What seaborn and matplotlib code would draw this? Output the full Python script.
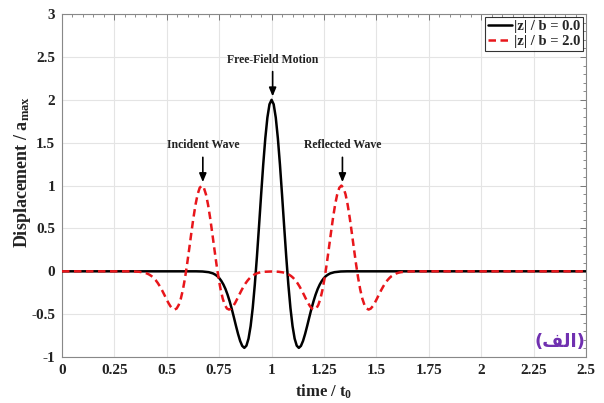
import matplotlib
matplotlib.use("Agg")
import matplotlib.pyplot as plt
from matplotlib.ticker import MultipleLocator
import seaborn as sns
import pandas as pd

# ---- data ----
black_t = [0.00, 0.64, 0.67, 0.70, 0.72, 0.73, 0.74, 0.75, 0.76, 0.77, 0.78, 0.79,
           0.80, 0.81, 0.82, 0.83, 0.84, 0.85, 0.86, 0.87, 0.88, 0.89, 0.90, 0.91,
           0.92, 0.93, 0.94, 0.95, 0.96, 0.97, 0.98, 0.99, 1.00, 1.01, 1.02, 1.03,
           1.04, 1.05, 1.06, 1.07, 1.08, 1.09, 1.10, 1.11, 1.12, 1.13, 1.14, 1.15,
           1.16, 1.17, 1.18, 1.19, 1.20, 1.21, 1.22, 1.23, 1.24, 1.25, 1.26, 1.27,
           1.28, 1.30, 1.33, 1.36, 2.50]
black_y = [0.000, 0.000, -0.002, -0.010, -0.024, -0.037, -0.054, -0.078, -0.111, -0.153,
           -0.206, -0.272, -0.350, -0.438, -0.535, -0.635, -0.730, -0.812, -0.870, -0.893,
           -0.867, -0.785, -0.639, -0.428, -0.155, 0.168, 0.524, 0.890, 1.242, 1.551,
           1.793, 1.948, 2.000, 1.948, 1.793, 1.551, 1.242, 0.890, 0.524, 0.168,
           -0.155, -0.428, -0.639, -0.785, -0.867, -0.893, -0.870, -0.812, -0.730, -0.635,
           -0.535, -0.438, -0.350, -0.272, -0.206, -0.153, -0.111, -0.078, -0.054, -0.037,
           -0.024, -0.010, -0.002, 0.000, 0.000]

red_t = [0.000, 0.307, 0.337, 0.367, 0.387, 0.397, 0.407, 0.417, 0.427, 0.437, 0.447,
         0.457, 0.467, 0.477, 0.487, 0.497, 0.507, 0.517, 0.527, 0.537, 0.547, 0.557,
         0.567, 0.577, 0.587, 0.597, 0.607, 0.617, 0.627, 0.637, 0.647, 0.657, 0.667,
         0.677, 0.687, 0.697, 0.707, 0.717, 0.727, 0.737, 0.747, 0.757, 0.767, 0.777,
         0.787, 0.797, 0.807, 0.817, 0.827, 0.837, 0.847, 0.857, 0.867, 0.877, 0.887,
         0.897, 0.907, 0.917, 0.927, 0.937, 0.947, 0.967, 1.000, 1.033, 1.053, 1.063,
         1.073, 1.083, 1.093, 1.103, 1.113, 1.123, 1.133, 1.143, 1.153, 1.163, 1.173,
         1.183, 1.193, 1.203, 1.213, 1.223, 1.233, 1.243, 1.253, 1.263, 1.273, 1.283,
         1.293, 1.303, 1.313, 1.323, 1.333, 1.343, 1.353, 1.363, 1.373, 1.383, 1.393,
         1.403, 1.413, 1.423, 1.433, 1.443, 1.453, 1.463, 1.473, 1.483, 1.493, 1.503,
         1.513, 1.523, 1.533, 1.543, 1.553, 1.563, 1.573, 1.583, 1.593, 1.603, 1.613,
         1.633, 1.663, 1.693, 2.500]
red_y = [0.000, 0.000, -0.001, -0.005, -0.012, -0.018, -0.027, -0.039, -0.055, -0.076, -0.103,
         -0.136, -0.175, -0.219, -0.267, -0.317, -0.365, -0.406, -0.435, -0.446, -0.434, -0.392,
         -0.319, -0.214, -0.078, 0.084, 0.262, 0.445, 0.621, 0.776, 0.897, 0.974, 1.000,
         0.974, 0.897, 0.776, 0.621, 0.445, 0.262, 0.084, -0.078, -0.214, -0.319, -0.392,
         -0.434, -0.446, -0.435, -0.406, -0.365, -0.317, -0.267, -0.219, -0.175, -0.136, -0.103,
         -0.076, -0.055, -0.039, -0.027, -0.018, -0.012, -0.005, -0.002, -0.005, -0.012, -0.018,
         -0.027, -0.039, -0.055, -0.076, -0.103, -0.136, -0.175, -0.219, -0.267, -0.317, -0.365,
         -0.406, -0.435, -0.446, -0.434, -0.392, -0.319, -0.214, -0.078, 0.084, 0.262, 0.445,
         0.621, 0.776, 0.897, 0.974, 1.000, 0.974, 0.897, 0.776, 0.621, 0.445, 0.262,
         0.084, -0.078, -0.214, -0.319, -0.392, -0.434, -0.446, -0.435, -0.406, -0.365, -0.317,
         -0.267, -0.219, -0.175, -0.136, -0.103, -0.076, -0.055, -0.039, -0.027, -0.018, -0.012,
         -0.005, -0.001, 0.000, 0.000]

series_labels = ["|z| / b = 0.0", "|z| / b = 2.0"]
annotations = [("Free-Field Motion", 1.0, 2.0), ("Incident Wave", 0.667, 1.0),
               ("Reflected Wave", 1.333, 1.0)]
x_ticks = [0, 0.25, 0.5, 0.75, 1, 1.25, 1.5, 1.75, 2, 2.25, 2.5]
x_tick_labels = ["0", "0.25", "0.5", "0.75", "1", "1.25", "1.5", "1.75", "2", "2.25", "2.5"]
y_ticks = [-1, -0.5, 0, 0.5, 1, 1.5, 2, 2.5, 3]
y_tick_labels = ["-1", "-0.5", "0", "0.5", "1", "1.5", "2", "2.5", "3"]
panel_label = "(\uFED2\uFEDF\uFE8D)"  # (الف) in visual order

assert len(black_t) == len(black_y) and len(red_t) == len(red_y)

sns.set_theme(style="white")
plt.rcParams["font.family"] = ["Liberation Serif", "DejaVu Sans"]
plt.rcParams["font.weight"] = "bold"
plt.rcParams["mathtext.fontset"] = "custom"
plt.rcParams["mathtext.rm"] = "Liberation Serif:bold"
plt.rcParams["mathtext.bf"] = "Liberation Serif:bold"
plt.rcParams["mathtext.it"] = "Liberation Serif:bold"

fig = plt.figure(figsize=(6.04, 4.03), dpi=100)
ax = fig.add_axes([0.1026, 0.114, 0.8676, 0.851])

df_b = pd.DataFrame({"t": black_t, "y": black_y})
df_r = pd.DataFrame({"t": red_t, "y": red_y})
sns.lineplot(data=df_b, x="t", y="y", ax=ax, color="black", lw=1.8, sort=False,
             label=series_labels[0], zorder=3)
sns.lineplot(data=df_r, x="t", y="y", ax=ax, color="#e8161b", lw=1.8, sort=False,
             label=series_labels[1], zorder=4)
ax.lines[1].set_dashes((3.0, 1.8))

ax.set_xlim(0, 2.5)
ax.set_ylim(-1, 3)
ax.set_xticks(x_ticks)
ax.set_xticklabels(x_tick_labels)
ax.set_yticks(y_ticks)
ax.set_yticklabels(y_tick_labels)
ax.xaxis.set_minor_locator(MultipleLocator(0.05))
ax.yaxis.set_minor_locator(MultipleLocator(0.1))
ax.tick_params(axis="both", which="both", direction="in", top=True, right=True,
               color="#777777", labelsize=11, labelcolor="#222222")
ax.tick_params(which="major", length=4, width=0.7, pad=5)
ax.tick_params(which="minor", length=2.5, width=0.6)
for lab in ax.get_xticklabels() + ax.get_yticklabels():
    lab.set_fontweight("bold")
ax.grid(True, which="major", color="#e4e4e4", lw=0.8)
ax.set_axisbelow(True)
for s in ax.spines.values():
    s.set_color("#888888")
    s.set_linewidth(0.8)

ax.set_xlabel(r"time / t$_\mathbf{0}$", fontsize=12, fontweight="bold", color="#222222", labelpad=4)
ax.set_ylabel(r"Displacement / a$_\mathbf{max}$", fontsize=13, fontweight="bold",
              color="#222222")
ax.yaxis.set_label_coords(-0.055, 0.54)

for txt, xx, yy in annotations:
    ax.annotate(txt, xy=(xx + 0.005, yy + 0.04), xytext=(xx + 0.005, yy + 0.47),
                ha="center", va="center", fontsize=8.5, fontweight="bold", color="#222222",
                arrowprops=dict(arrowstyle="-|>,head_length=0.6,head_width=0.25",
                                color="black", lw=1.2, shrinkA=2, shrinkB=0))

leg = ax.legend(loc="upper right", fontsize=10.5, frameon=True, fancybox=False,
                borderpad=0.2, handlelength=1.6, handletextpad=0.15, labelspacing=0.1,
                borderaxespad=0.2)
leg.get_frame().set_edgecolor("black")
leg.get_frame().set_linewidth(0.8)
for t in leg.get_texts():
    t.set_fontweight("bold")

ax.text(2.376, -0.83, panel_label, ha="center", va="center", fontsize=13,
        fontweight="bold", color="#7030b0", family=["DejaVu Sans"])

fig.savefig("out.png", dpi=100)
